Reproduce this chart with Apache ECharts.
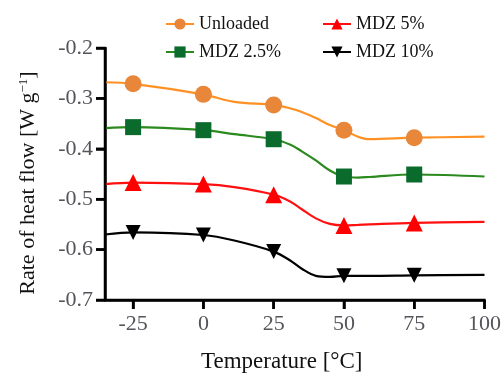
<!DOCTYPE html>
<html>
<head>
<meta charset="utf-8">
<script src="https://cdn.jsdelivr.net/npm/echarts@6/dist/echarts.min.js"></script>
<style>
html,body{margin:0;padding:0;background:#fff;}
#c{width:504px;height:378px;}
</style>
</head>
<body>
<div id="c"></div>
<script>
// Temperature points (°C) along the fitted curves
var temps = [-35, -25, 0, 11, 25, 31, 35, 40, 45, 50, 55, 59, 75, 100];
// Temperatures where measured markers are drawn
var markerTemps = [-25, 0, 25, 50, 75];
// Rate of heat flow [W g^-1]
var unloaded = [-0.268, -0.271, -0.292, -0.307, -0.313, -0.320, -0.327, -0.339, -0.353, -0.363, -0.376, -0.381, -0.378, -0.376];
var mdz25    = [-0.359, -0.357, -0.363, -0.371, -0.381, -0.392, -0.405, -0.423, -0.443, -0.455, -0.457, -0.456, -0.451, -0.455];
var mdz5     = [-0.470, -0.467, -0.470, -0.476, -0.491, -0.505, -0.520, -0.538, -0.549, -0.552, -0.551, -0.550, -0.547, -0.545];
var mdz10    = [-0.570, -0.566, -0.571, -0.582, -0.604, -0.622, -0.638, -0.652, -0.654, -0.652, -0.652, -0.652, -0.651, -0.650];
var seriesNames = ['Unloaded', 'MDZ 2.5%', 'MDZ 5%', 'MDZ 10%'];
var xTickLabels = [-25, 0, 25, 50, 75, 100];
var yTickLabels = [-0.7, -0.6, -0.5, -0.4, -0.3, -0.2];
var xMin = -35, xMax = 100, yMin = -0.7, yMax = -0.2;

var font = 'Liberation Serif';
function makeData(vals) {
  return temps.map(function (t, i) {
    var item = { value: [t, vals[i]] };
    if (markerTemps.indexOf(t) < 0) item.symbol = 'none';
    return item;
  });
}
function mkSeries(name, vals, lineColor, markColor, symbol, size) {
  return {
    name: name, type: 'line', smooth: 0.35,
    data: makeData(vals),
    symbol: symbol, symbolSize: size,
    showAllSymbol: true,
    lineStyle: { color: lineColor, width: 2.2 },
    itemStyle: { color: markColor },
    z: 3
  };
}

var chart = echarts.init(document.getElementById('c'));
function legendOf(left, names) {
  return {
    left: left, top: 10, orient: 'vertical', itemWidth: 28, itemHeight: 14, itemGap: 10,
    textStyle: { fontFamily: font, fontSize: 18, color: '#111' },
    data: names
  };
}
chart.setOption({
  animation: false,
  grid: { left: 105, right: 18, top: 48, bottom: 76 },
  legend: [legendOf(160, [seriesNames[0], seriesNames[1]]), legendOf(317, [seriesNames[2], seriesNames[3]])],
  xAxis: {
    type: 'value', min: xMin, max: xMax,
    name: 'Temperature [°C]', nameLocation: 'middle', nameGap: 50,
    nameTextStyle: { fontFamily: font, fontSize: 23, color: '#111', padding: [0, 26, 0, 0] },
    axisLine: { show: true, onZero: false, lineStyle: { color: '#000', width: 2.5 } },
    axisTick: { show: true, length: 9, lineStyle: { color: '#000', width: 2.5 }, customValues: xTickLabels },
    axisLabel: { fontFamily: font, fontSize: 22, margin: 13, customValues: xTickLabels },
    splitLine: { show: false }
  },
  yAxis: {
    type: 'value', min: yMin, max: yMax, interval: 0.1,
    name: '{t|Rate of heat flow [W g}{s|−1}{t|]}', nameLocation: 'middle', nameGap: 66,
    nameTextStyle: {
      padding: [0, 18, 0, 0],
      rich: {
        t: { fontFamily: font, fontSize: 22, color: '#111' },
        s: { fontFamily: font, fontSize: 13, color: '#111', verticalAlign: 'top' }
      }
    },
    axisLine: { show: true, onZero: false, lineStyle: { color: '#000', width: 2.5 } },
    axisTick: { show: true, length: 9, lineStyle: { color: '#000', width: 2.5 } },
    axisLabel: { fontFamily: font, fontSize: 22, margin: 12,
      formatter: function (v) { return v.toFixed(1); } },
    splitLine: { show: false }
  },
  series: [
    mkSeries(seriesNames[0], unloaded, '#FF9124', '#E8873A', 'circle', 17),
    mkSeries(seriesNames[1], mdz25, '#2A8A1E', '#0B6B2C', 'rect', 16),
    mkSeries(seriesNames[2], mdz5, '#FF1010', '#FF0000', 'triangle', 17),
    mkSeries(seriesNames[3], mdz10, '#000000', '#000000', 'path://M0,0 L10,0 L5,9 Z', 15)
  ]
});

// Axis lines and ticks reinforced from the library's own scales
function px(x, y) { return chart.convertToPixel({ gridIndex: 0 }, [x, y]); }
var g = [];
var stroke = { stroke: '#000', lineWidth: 2.5 };
var o = px(xMin, yMin), xe = px(xMax, yMin), yt = px(xMin, yMax);
g.push({ type: 'line', z: 50, shape: { x1: o[0], y1: yt[1] - 1, x2: o[0], y2: o[1] }, style: stroke });
g.push({ type: 'line', z: 50, shape: { x1: o[0] - 1, y1: o[1], x2: xe[0] + 1, y2: o[1] }, style: stroke });
xTickLabels.forEach(function (v) {
  var p = px(v, yMin);
  g.push({ type: 'line', z: 50, shape: { x1: p[0], y1: p[1], x2: p[0], y2: p[1] + 9 }, style: stroke });
});
yTickLabels.forEach(function (v) {
  var p = px(xMin, v);
  g.push({ type: 'line', z: 50, shape: { x1: p[0] - 9, y1: p[1], x2: p[0], y2: p[1] }, style: stroke });
});
chart.setOption({ graphic: g });
</script>
</body>
</html>
